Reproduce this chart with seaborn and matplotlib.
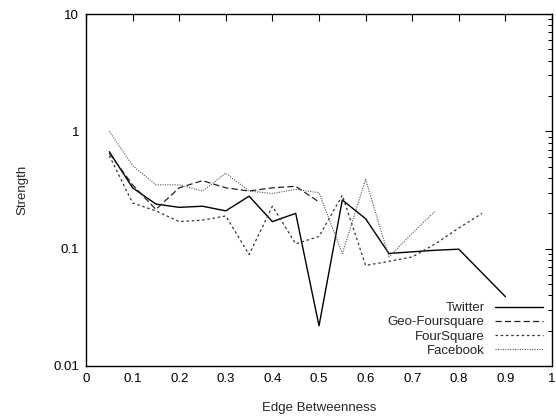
import matplotlib
matplotlib.use("Agg")
import matplotlib.pyplot as plt
import seaborn as sns
import numpy as np
from matplotlib.ticker import FixedLocator, LogLocator, NullFormatter

twitter_x = [0.05, 0.1, 0.15, 0.2, 0.25, 0.3, 0.35, 0.4, 0.45, 0.5, 0.55, 0.6, 0.65, 0.7, 0.75, 0.8, 0.9]
twitter_y = [0.67, 0.33, 0.24, 0.225, 0.23, 0.21, 0.28, 0.17, 0.20, 0.022, 0.26, 0.18, 0.091, 0.094, 0.097, 0.099, 0.039]

geo_x = [0.05, 0.1, 0.15, 0.2, 0.25, 0.3, 0.35, 0.4, 0.45, 0.5]
geo_y = [0.65, 0.35, 0.216, 0.33, 0.38, 0.33, 0.31, 0.33, 0.34, 0.25]

four_x = [0.05, 0.1, 0.15, 0.2, 0.25, 0.3, 0.35, 0.4, 0.45, 0.5, 0.55, 0.6, 0.65, 0.7, 0.75, 0.8, 0.85]
four_y = [0.62, 0.245, 0.21, 0.17, 0.175, 0.19, 0.089, 0.23, 0.11, 0.127, 0.285, 0.072, 0.078, 0.085, 0.11, 0.15, 0.20]

fb_x = [0.05, 0.1, 0.15, 0.2, 0.25, 0.3, 0.35, 0.4, 0.45, 0.5, 0.55, 0.6, 0.65, 0.7, 0.75]
fb_y = [1.0, 0.51, 0.35, 0.35, 0.31, 0.44, 0.31, 0.295, 0.32, 0.30, 0.091, 0.39, 0.085, 0.135, 0.21]

x_ticks = [0, 0.1, 0.2, 0.3, 0.4, 0.5, 0.6, 0.7, 0.8, 0.9, 1]
x_tick_labels = ["0", "0.1", "0.2", "0.3", "0.4", "0.5", "0.6", "0.7", "0.8", "0.9", "1"]
y_ticks = [0.01, 0.1, 1, 10]
y_tick_labels = ["0.01", "0.1", "1", "10"]

sns.set_style("white")
plt.rcParams['font.family'] = ['Liberation Sans', 'DejaVu Sans']

fig = plt.figure(figsize=(5.56, 4.16), dpi=100)
ax = fig.add_axes([86/556, 50/416, 466/556, 352/416])

series = [
    ("Twitter", twitter_x, twitter_y, "black", "-", 1.0),
    ("Geo-Foursquare", geo_x, geo_y, "#222222", (0, (5, 2.5)), 0.9),
    ("FourSquare", four_x, four_y, "#333333", (0, (2, 2.2)), 0.9),
    ("Facebook", fb_x, fb_y, "#555555", (0, (1, 1.2)), 0.8),
]
for name, xs, ys, c, ls, lw in series:
    sns.lineplot(x=xs, y=ys, ax=ax, color=c, linestyle=ls, linewidth=lw, label=name)

ax.set_yscale("log")
ax.set_xlim(0, 1)
ax.set_ylim(0.01, 10)
ax.xaxis.set_major_locator(FixedLocator(x_ticks))
ax.set_xticklabels(x_tick_labels)
ax.yaxis.set_major_locator(FixedLocator(y_ticks))
ax.set_yticklabels(y_tick_labels)
ax.yaxis.set_minor_locator(LogLocator(base=10, subs=np.arange(2, 10)))
ax.yaxis.set_minor_formatter(NullFormatter())

ax.tick_params(which="both", direction="in", top=True, right=True, labelsize=9.5, colors="black")
ax.tick_params(which="major", length=5, width=0.8, pad=5)
ax.tick_params(which="minor", length=3, width=0.7)
for s in ax.spines.values():
    s.set_visible(True)
    s.set_color("black")
    s.set_linewidth(1.0)

ax.set_xlabel("Edge Betweenness", fontsize=9.5, labelpad=12)
ax.set_ylabel("Strength", fontsize=9.5, labelpad=18)

ax.legend(loc="lower right", frameon=False, markerfirst=False, fontsize=9.5,
          handlelength=3.6, labelspacing=0.15, borderaxespad=0.3, handletextpad=0.8)

fig.savefig("out.png", dpi=100)
